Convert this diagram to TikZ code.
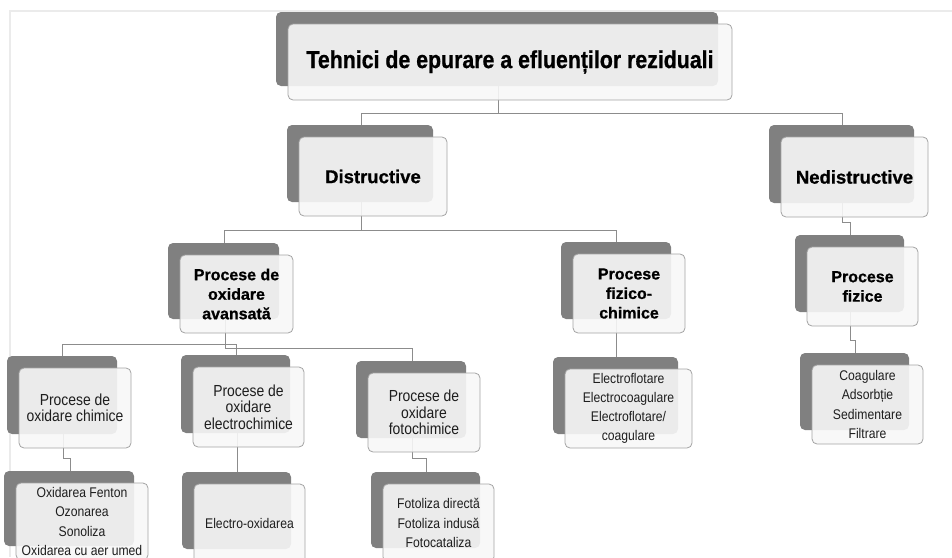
\documentclass[tikz,border=0pt]{standalone}
\usepackage{fontspec}
\setmainfont{Liberation Sans}[BoldFeatures={FakeBold=0.8}]
\newfontfamily\narrowfont{Liberation Sans}[FakeStretch=0.87, BoldFeatures={FakeBold=0.8}]
\definecolor{shadowgray}{HTML}{808080}
\definecolor{bordergray}{HTML}{A3A3A3}
\definecolor{frontfill}{HTML}{F7F7F7}
\definecolor{linegray}{HTML}{8C8C8C}
\definecolor{framegray}{HTML}{EBEBEB}
\definecolor{txtgray}{HTML}{1E1E1E}
\tikzset{
  shadowbox/.style={fill=shadowgray, rounded corners=5pt, draw=none, inner sep=0pt, outer sep=0pt},
  frontbox/.style={draw=bordergray, line width=0.8pt, fill=frontfill, fill opacity=0.9, text opacity=1,
    rounded corners=5pt, align=center, inner sep=0pt, outer sep=0pt},
  conn/.style={draw=linegray, line width=0.9pt},
  frameline/.style={draw=framegray, line width=1.5pt},
  ftitle/.style={font=\narrowfont\fontsize{24.5}{28}\selectfont\bfseries},
  flevA/.style={font=\fontsize{18.5}{22}\selectfont\bfseries},
  flevB/.style={font=\fontsize{16}{19.5}\selectfont\bfseries},
  flevC/.style={font=\narrowfont\fontsize{16}{16.5}\selectfont, text=txtgray},
  flevD/.style={font=\narrowfont\fontsize{14}{19.2}\selectfont, text=txtgray},
}
% shadow: name, x1, y1, x2, y2 (front box corners)
\newcommand{\mkshadow}[5]{%
  \node[shadowbox, minimum width={#4-#2-2}, minimum height={#5-#3-2}] (#1s)
    at ({(#2+#4)/2-13},{(#3+#5)/2-13}) {};}
% front: name, x1, y1, x2, y2, style, text
\newcommand{\mkfront}[7]{%
  \node[frontbox, #6, minimum width={#4-#2}, minimum height={#5-#3}] (#1)
    at ({(#2+#4)/2},{(#3+#5)/2}) {#7};}
\begin{document}
\begin{tikzpicture}[x=1pt, y=-1pt]
\useasboundingbox (0,0) rectangle (952,557);
\begin{scope}
\clip (0,0) rectangle (952,557);
% frame
\draw[frameline] (10,557) -- (10,11) -- (952,11);
% shadows
\mkshadow{t}{288}{24}{732}{100}
\mkshadow{d}{299}{137}{447}{216}
\mkshadow{n}{781}{137}{928}{217}
\mkshadow{a}{180}{255}{293}{333}
\mkshadow{fc}{573}{254}{685}{333}
\mkshadow{pf}{807}{247}{918}{326}
\mkshadow{c1}{19}{368}{131}{448}
\mkshadow{c2}{193}{367}{304}{447}
\mkshadow{c3}{368}{373}{480}{452}
\mkshadow{e1}{16}{483}{148}{560}
\mkshadow{e2}{194}{484}{305}{563}
\mkshadow{e3}{383}{484}{494}{562}
\mkshadow{fcl}{565}{369}{692}{448}
\mkshadow{pfl}{812}{365}{923}{444}
% connectors
\draw[conn] (ts.south -| 498,0) |- (361,113) -- (ds.north -| 361,0);
\draw[conn] (ts.south -| 498,0) |- (842,113) -- (ns.north -| 842,0);
\draw[conn] (ds.south -| 361,0) |- (224,230) -- (as.north -| 224,0);
\draw[conn] (ds.south -| 361,0) |- (616,230) -- (fcs.north -| 616,0);
\draw[conn] (ns.south -| 842,0) |- (850,222) -- (pfs.north -| 850,0);
\draw[conn] (as.south -| 225,0) |- (62,344) -- (c1s.north -| 62,0);
\draw[conn] (as.south -| 225,0) |- (236,344) -- (c2s.north -| 236,0);
\draw[conn] (as.south -| 225,0) |- (412,348) -- (c3s.north -| 412,0);
\draw[conn] (c1s.south -| 63,0) |- (70,458) -- (e1s.north -| 70,0);
\draw[conn] (c2s.south -| 237,0) -- (e2s.north -| 237,0);
\draw[conn] (c3s.south -| 412,0) |- (426,458) -- (e3s.north -| 426,0);
\draw[conn] (fcs.south -| 616,0) -- (fcls.north -| 616,0);
\draw[conn] (pfs.south -| 850,0) |- (855,340) -- (pfls.north -| 855,0);
% front boxes
\mkfront{t}{288}{24}{732}{100}{ftitle}{Tehnici de epurare a efluenților reziduali}
\mkfront{d}{299}{137}{447}{216}{flevA}{Distructive}
\mkfront{n}{781}{137}{928}{217}{flevA}{Nedistructive}
\mkfront{a}{180}{255}{293}{333}{flevB}{Procese de\\oxidare\\avansată}
\mkfront{fc}{573}{254}{685}{333}{flevB}{Procese\\fizico-\\chimice}
\mkfront{pf}{807}{247}{918}{326}{flevB}{Procese\\fizice}
\mkfront{c1}{19}{368}{131}{448}{flevC}{Procese de\\oxidare chimice}
\mkfront{c2}{193}{367}{304}{447}{flevC}{Procese de\\oxidare\\electrochimice}
\mkfront{c3}{368}{373}{480}{452}{flevC}{Procese de\\oxidare\\fotochimice}
\mkfront{e1}{16}{483}{148}{560}{flevD}{Oxidarea Fenton\\Ozonarea\\Sonoliza\\Oxidarea cu aer umed}
\mkfront{e2}{194}{484}{305}{563}{flevD}{Electro-oxidarea}
\mkfront{e3}{383}{484}{494}{562}{flevD}{Fotoliza directă\\Fotoliza indusă\\Fotocataliza}
\mkfront{fcl}{565}{369}{692}{448}{flevD}{Electroflotare\\Electrocoagulare\\Electroflotare/\\coagulare}
\mkfront{pfl}{812}{365}{923}{444}{flevD}{Coagulare\\Adsorbție\\Sedimentare\\Filtrare}
\end{scope}
\end{tikzpicture}
\end{document}
